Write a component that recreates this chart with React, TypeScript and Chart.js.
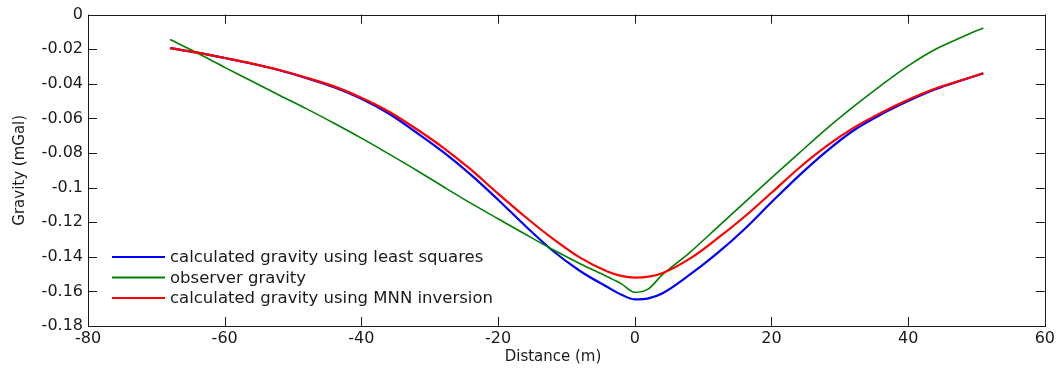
import React, { useEffect, useRef } from "react";
import { Chart, registerables } from "chart.js";

Chart.register(...registerables);

const distance = [-68, -64, -60, -56, -52, -48, -44, -40, -36, -32, -28, -24, -20, -16, -12, -8, -4, -2, 0, 2, 4, 8, 12, 16, 20, 24, 28, 32, 36, 40, 44, 48, 51];

const leastSquares = [-0.0194, -0.0220, -0.0251, -0.0284, -0.0322, -0.0368, -0.0420, -0.0487, -0.0572, -0.0680, -0.0795, -0.0925, -0.1070, -0.1222, -0.1365, -0.1482, -0.1575, -0.1618, -0.1646, -0.1640, -0.1612, -0.1505, -0.1382, -0.1242, -0.1085, -0.0932, -0.0792, -0.0670, -0.0578, -0.0500, -0.0432, -0.0378, -0.0339];

const observed = [-0.0144, -0.0222, -0.0305, -0.0385, -0.0466, -0.0545, -0.0628, -0.0714, -0.0805, -0.0898, -0.0995, -0.1090, -0.1180, -0.1270, -0.1358, -0.1440, -0.1515, -0.1555, -0.1605, -0.1585, -0.1505, -0.1377, -0.1233, -0.1088, -0.0944, -0.0802, -0.0662, -0.0532, -0.0410, -0.0296, -0.0200, -0.0128, -0.0077];

const mnn = [-0.0194, -0.0220, -0.0251, -0.0283, -0.0320, -0.0365, -0.0415, -0.0480, -0.0560, -0.0660, -0.0770, -0.0895, -0.1035, -0.1170, -0.1295, -0.1405, -0.1485, -0.1510, -0.1520, -0.1515, -0.1495, -0.1412, -0.1297, -0.1170, -0.1030, -0.0888, -0.0762, -0.0655, -0.0568, -0.0492, -0.0427, -0.0377, -0.0339];

const seriesLabels = [
  "calculated gravity using least squares",
  "observer gravity",
  "calculated gravity using MNN inversion",
];
const seriesColors = ["#0000ff", "#008000", "#ff0000"];

const xTicks = [-80, -60, -40, -20, 0, 20, 40, 60];
const yTicks = [0, -0.02, -0.04, -0.06, -0.08, -0.1, -0.12, -0.14, -0.16, -0.18];
const xTitle = "Distance (m)";
const yTitle = "Gravity (mGal)";

const FONT = "'DejaVu Sans', sans-serif";
const TEXT = "#1a1a1a";

const framePlugin = {
  id: "frame",
  afterDraw(chart: any) {
    const { ctx, chartArea } = chart;
    const { left, right, top, bottom } = chartArea;
    const xs = chart.scales.x;
    const ys = chart.scales.y;
    ctx.save();
    ctx.strokeStyle = TEXT;
    ctx.lineWidth = 1;
    ctx.strokeRect(Math.round(left) + 0.5, Math.round(top) + 0.5, Math.round(right - left), Math.round(bottom - top));
    ctx.beginPath();
    const len = 9;
    xTicks.forEach((v) => {
      const px = Math.round(xs.getPixelForValue(v)) + 0.5;
      ctx.moveTo(px, bottom);
      ctx.lineTo(px, bottom - len);
      ctx.moveTo(px, top);
      ctx.lineTo(px, top + len);
    });
    yTicks.forEach((v) => {
      const py = Math.round(ys.getPixelForValue(v)) + 0.5;
      ctx.moveTo(left, py);
      ctx.lineTo(left + len, py);
      ctx.moveTo(right, py);
      ctx.lineTo(right - len, py);
    });
    ctx.stroke();

    // x axis title
    ctx.fillStyle = TEXT;
    ctx.font = "15px " + FONT;
    ctx.textAlign = "center";
    ctx.textBaseline = "middle";
    ctx.fillText(xTitle, 553, 357);

    // legend
    const rows = [257, 277.5, 298];
    ctx.font = "16.5px " + FONT;
    ctx.textBaseline = "middle";
    ctx.textAlign = "left";
    chart.data.datasets.forEach((ds: any, i: number) => {
      const y = rows[i];
      ctx.strokeStyle = ds.borderColor;
      ctx.lineWidth = 2;
      ctx.beginPath();
      ctx.moveTo(112, y);
      ctx.lineTo(165, y);
      ctx.stroke();
      ctx.fillStyle = TEXT;
      ctx.fillText(ds.label, 170, y + 1);
    });
    ctx.restore();
  },
};

export default function App() {
  const ref = useRef<HTMLCanvasElement | null>(null);
  useEffect(() => {
    if (!ref.current) return;
    const seriesValues = [leastSquares, observed, mnn];
    const widths = [2.2, 1.6, 2.2];
    const orders = [2, 1, 0];
    const chart = new Chart(ref.current, {
      type: "scatter",
      data: {
        datasets: seriesValues.map((vals, i) => ({
          label: seriesLabels[i],
          data: distance.map((d, j) => ({ x: d, y: vals[j] })),
          borderColor: seriesColors[i],
          backgroundColor: seriesColors[i],
          borderWidth: widths[i],
          showLine: true,
          pointRadius: 0,
          cubicInterpolationMode: "monotone",
          order: orders[i],
        })),
      },
      options: {
        animation: false,
        responsive: false,
        events: [],
        layout: { padding: { top: 14, right: 10, left: 0, bottom: 0 } },
        plugins: { legend: { display: false }, tooltip: { enabled: false } },
        scales: {
          x: {
            type: "linear",
            min: -80,
            max: 60,
            afterFit: (s: any) => {
              s.height = 46;
            },
            afterBuildTicks: (s: any) => {
              s.ticks = xTicks.map((v) => ({ value: v }));
            },
            grid: { display: false, drawTicks: false },
            border: { display: false },
            ticks: {
              padding: 3,
              color: TEXT,
              font: { family: FONT, size: 16 },
              maxRotation: 0,
              autoSkip: false,
              callback: (v: any) => String(v),
            },
            title: { display: false },
          },
          y: {
            type: "linear",
            min: -0.18,
            max: 0,
            afterFit: (s: any) => {
              s.width = 88;
            },
            afterBuildTicks: (s: any) => {
              s.ticks = yTicks.map((v) => ({ value: v }));
            },
            grid: { display: false, drawTicks: false },
            border: { display: false },
            ticks: {
              padding: 5,
              color: TEXT,
              font: { family: FONT, size: 16 },
              autoSkip: false,
              callback: (v: any) => {
                const n = Number(Number(v).toFixed(2));
                return n === 0 ? "0" : String(n);
              },
            },
            title: {
              display: true,
              text: yTitle,
              color: TEXT,
              font: { family: FONT, size: 15 },
              padding: { top: 11, bottom: 0 },
            },
          },
        },
      } as any,
      plugins: [framePlugin],
    });
    return () => chart.destroy();
  }, []);
  return (
    <div style={{ position: "fixed", left: 0, top: 0, width: 1058, height: 372, background: "#fff" }}>
      <canvas ref={ref} width={1058} height={372} style={{ display: "block" }} />
    </div>
  );
}
